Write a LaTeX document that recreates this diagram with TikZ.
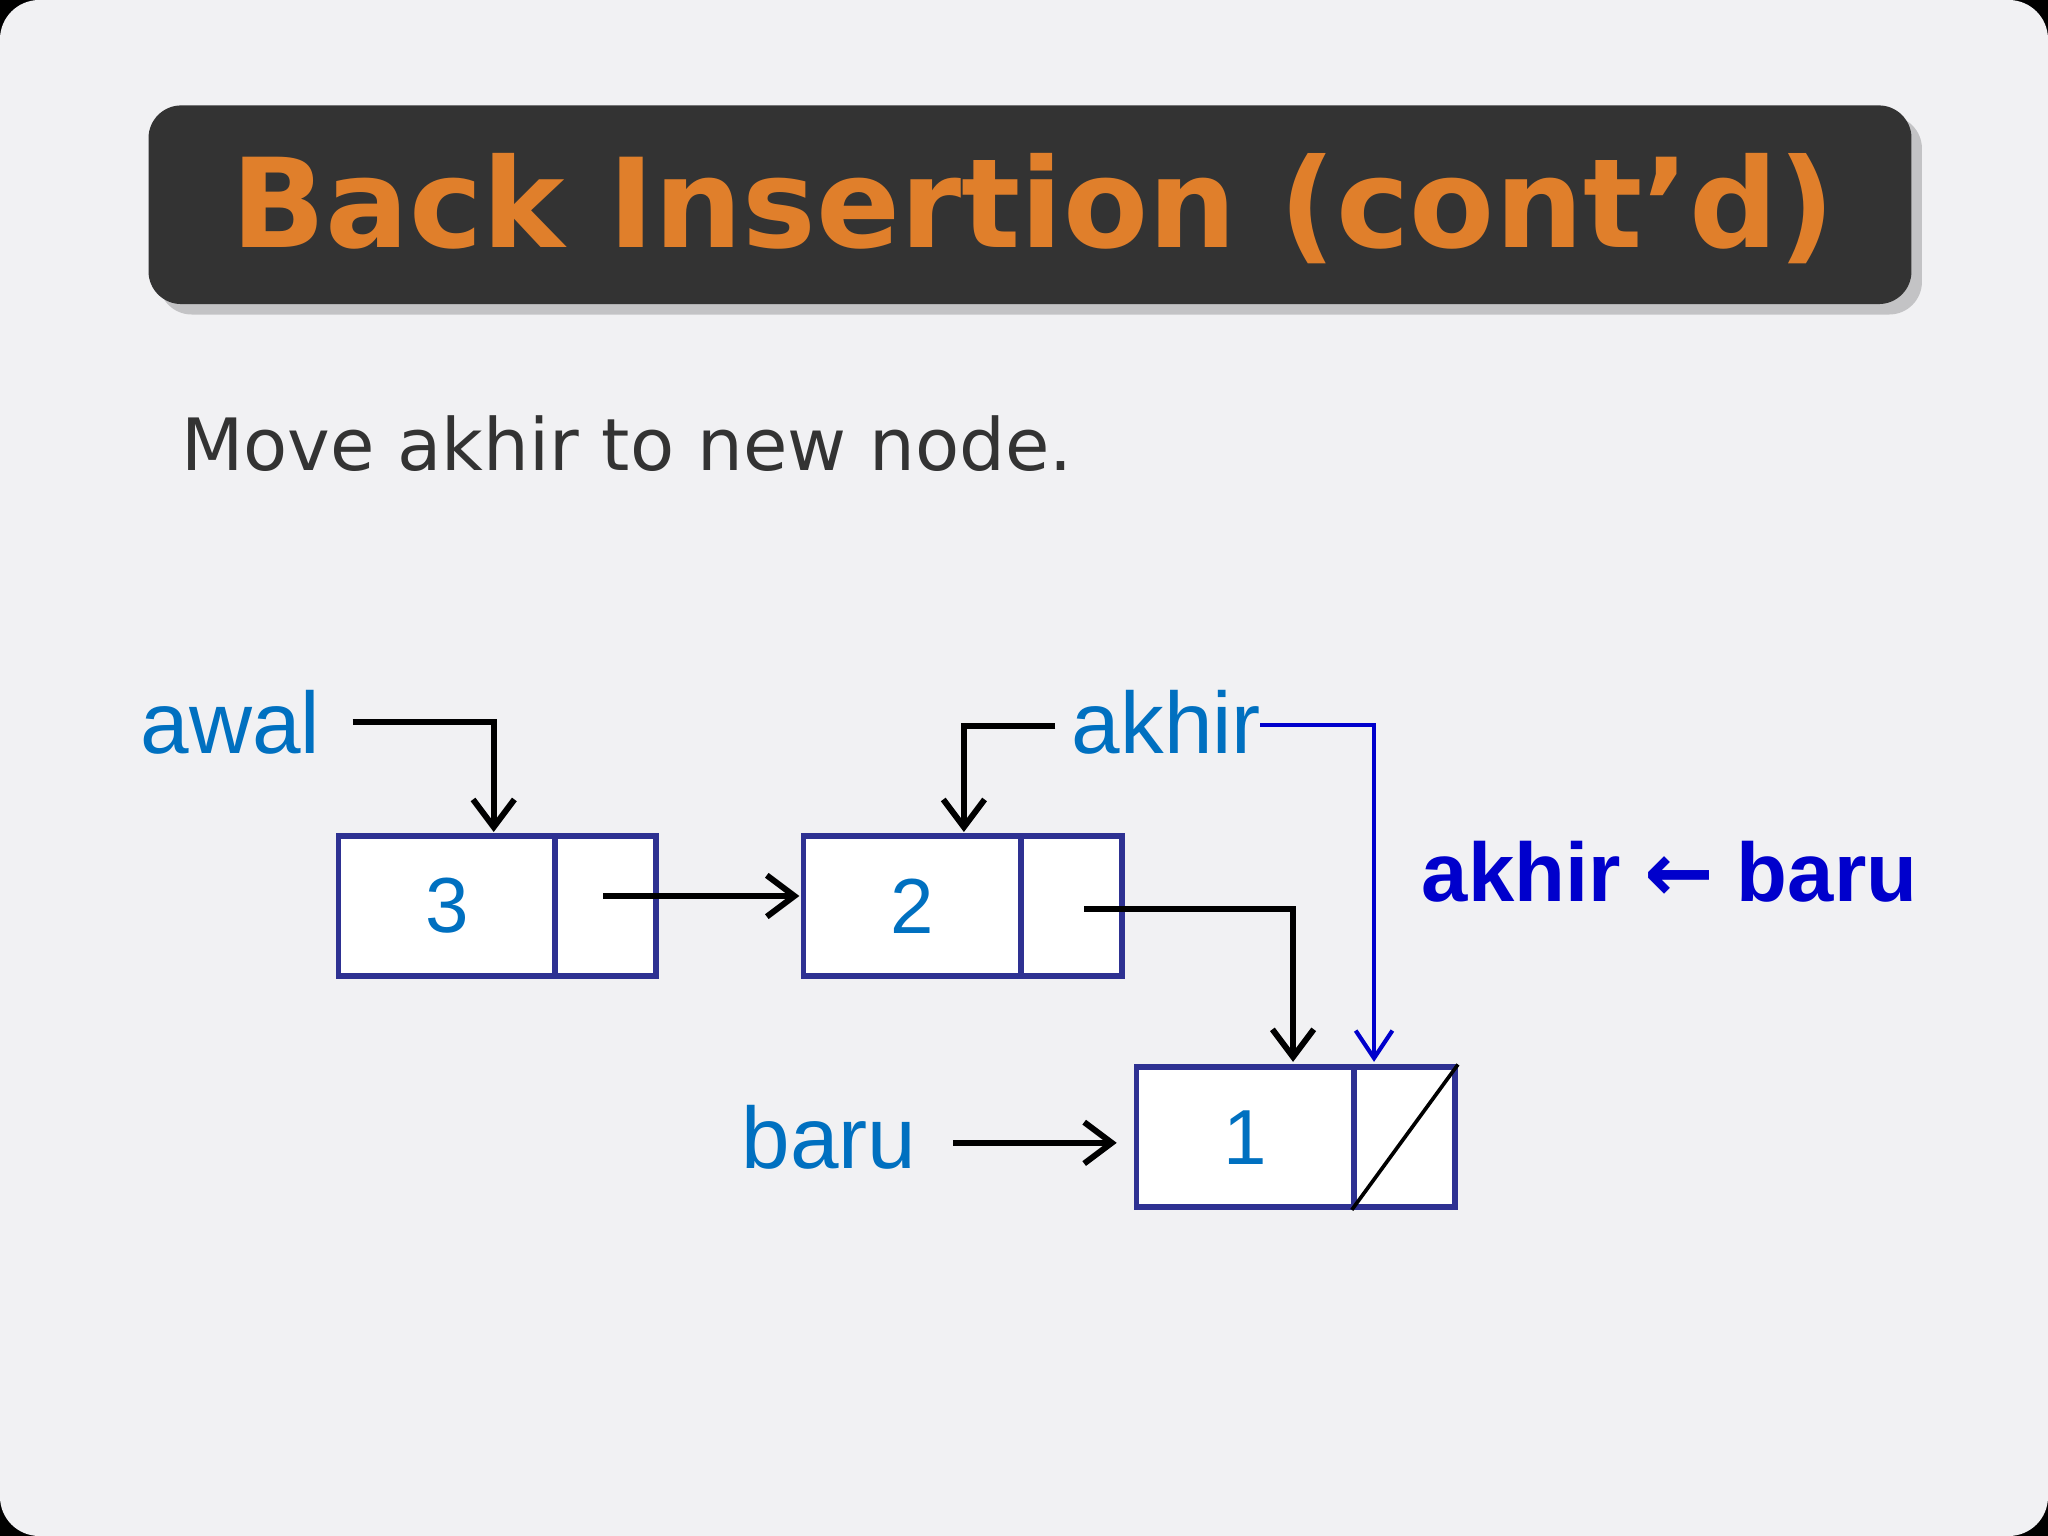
\documentclass[tikz,border=0pt]{standalone}
\usepackage{fontspec}
\setmainfont{Liberation Sans}
\newfontfamily\dv{DejaVu Sans}
\usetikzlibrary{arrows.meta,shadows}
\definecolor{bg}{HTML}{F1F1F3}
\definecolor{ttl}{HTML}{333333}
\definecolor{org}{HTML}{E07F2B}
\definecolor{nv}{HTML}{2E3192}
\definecolor{lb}{HTML}{0070C0}
\definecolor{db}{HTML}{0000CC}
\begin{document}
\begin{tikzpicture}[x=0.01cm,y=-0.01cm,
  cell/.style={draw=nv,line width=1.2pt,fill=white,minimum width=1.66cm,minimum height=1.07cm,inner sep=0pt},
  ptr/.style={draw=nv,line width=1.2pt,fill=white,minimum width=0.77cm,minimum height=1.07cm,inner sep=0pt},
  num/.style={text=lb,font=\fontsize{17}{20}\selectfont},
  lbl/.style={text=lb,font=\fontsize{19}{22}\selectfont,inner sep=0pt},
  arr/.style={line width=1.3pt,-{Straight Barb[length=6pt,width=9pt,line width=1.3pt]}},
  barr/.style={db,line width=0.9pt,-{Straight Barb[length=6pt,width=8pt]}}]
\fill[black] (0,0) rectangle (1568,1176);
\useasboundingbox (0,0) rectangle (1568,1176);
\fill[bg,rounded corners=0.3cm] (0,0) rectangle (1568,1176);
\node[fill=ttl,rounded corners=0.25cm,minimum width=13.49cm,minimum height=1.52cm,anchor=north west,
  drop shadow={shadow xshift=0.08cm,shadow yshift=-0.08cm,opacity=0.4}] (title) at (113,80) {};
\node[text=org,font=\dv\bfseries] (tt) at (791,160) {\resizebox{12.27cm}{!}{Back Insertion (cont’d)}};
\node[text=ttl,font=\dv,anchor=west,inner sep=0pt] (sub) at (138,340) {\resizebox{6.82cm}{!}{Move akhir to new node.}};
% boxes
\node[cell,anchor=north west] (d1) at (257,638) {};
\node[ptr,anchor=north west] (p1) at (423,638) {};
\node[num] at (d1) {3};
\node[cell,anchor=north west] (d2) at (613,638) {};
\node[ptr,anchor=north west] (p2) at (780,638) {};
\node[num] at (d2) {2};
\node[cell,anchor=north west] (d3) at (868,815) {};
\node[ptr,anchor=north west] (p3) at (1035,815) {};
\node[num] at (d3) {1};
\draw[line width=0.8pt] (p3.south west) -- (p3.north east);
% labels
\node[lbl,anchor=base west] (awal) at (107,577) {awal};
\node[lbl,anchor=base west] (akhir) at (820,577) {akhir};
\node[lbl,anchor=base west] (baru) at (567,895) {baru};
\node[text=db,font=\bfseries,anchor=base west,inner sep=0pt] (eq) at (1088,690) {\resizebox{3.79cm}{!}{akhir {\dv\bfseries ←} baru}};
% arrows
\coordinate (a0) at (270,553);
\draw[arr] (a0) -- (378,553) -- (378,637);
\coordinate (k0) at (808,556);
\draw[arr] (k0) -- (738,556) -- (738,637);
\coordinate (q1) at (462,686);
\draw[arr] (q1) -- (612,686);
\coordinate (q2) at (830,696);
\draw[arr] (q2) -- (990,696) -- (990,813);
\coordinate (b0) at (730,875);
\draw[arr] (b0) -- (855,875);
\coordinate (k1) at (965,555);
\draw[barr] (k1) -- (1052,555) -- (1052,813);
\end{tikzpicture}
\end{document}
